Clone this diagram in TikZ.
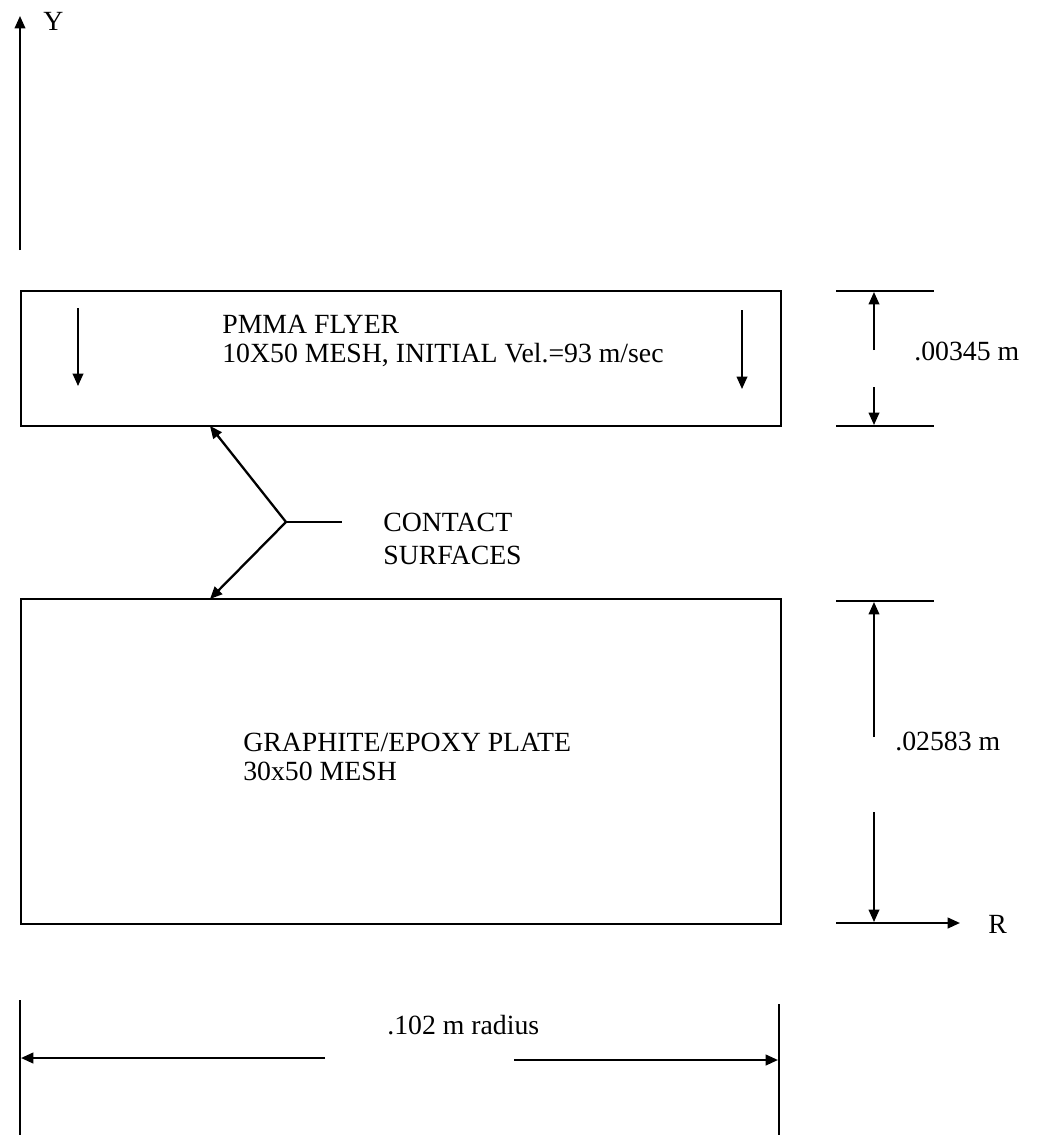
\documentclass[tikz,border=0pt]{standalone}
\usepackage{fontspec}
\setmainfont{Liberation Serif}
\usetikzlibrary{arrows.meta}
\begin{document}
\begin{tikzpicture}[x=0.02cm,y=-0.02cm,
  line/.style={line width=1.3pt},
  thin/.style={line width=1pt},
  arr/.style={-{Triangle[length=7pt,width=6pt]}},
  lbl/.style={font=\fontsize{15.8}{17}\selectfont, inner sep=0pt, anchor=base west, align=left}]
\useasboundingbox (0,0) rectangle (1049,1137);
% Y axis
\coordinate (ybot) at (20,250);
\coordinate (ytop) at (20,16);
\draw[thin,arr] (ybot) -- (ytop);
\node[lbl] (ylab) at (43,30) {Y};
% flyer
\node[draw,line, minimum width=760*0.02cm, minimum height=135*0.02cm, anchor=north west, inner sep=0pt] (flyer) at (20,290) {};
\coordinate (fa1) at (78,308);
\coordinate (fa1e) at (78,386);
\coordinate (fa2) at (742,310);
\coordinate (fa2e) at (742,389);
\draw[thin,arr] (fa1) -- (fa1e);
\draw[thin,arr] (fa2) -- (fa2e);
\node[lbl] (ftxt1) at (222,333) {PMMA FLYER};
\node[lbl] (ftxt2) at (222,362) {10X50 MESH, INITIAL Vel.=93 m/sec};
% plate
\node[draw,line, minimum width=760*0.02cm, minimum height=325*0.02cm, anchor=north west, inner sep=0pt] (plate) at (20,598) {};
\node[lbl] (ptxt1) at (243,751) {GRAPHITE/EPOXY PLATE};
\node[lbl] (ptxt2) at (243,780) {30x50 MESH};
% contact
\coordinate (junc) at (286,522);
\coordinate (jend) at (342,522);
\coordinate (ctop) at (210,426);
\coordinate (cbot) at (210,599);
\draw[line] (junc) -- (jend);
\draw[line,arr] (junc) -- (ctop);
\draw[line,arr] (junc) -- (cbot);
\node[lbl] (ctxt1) at (383,531) {CONTACT};
\node[lbl] (ctxt2) at (383,564) {SURFACES};
% flyer dimension
\coordinate (d1a) at (836,291); \coordinate (d1b) at (934,291);
\coordinate (d2a) at (836,426); \coordinate (d2b) at (934,426);
\draw[line] (d1a) -- (d1b);
\draw[line] (d2a) -- (d2b);
\coordinate (d1s) at (874,350); \coordinate (d1t) at (874,292);
\coordinate (d2s) at (874,387); \coordinate (d2t) at (874,425);
\draw[thin,arr] (d1s) -- (d1t);
\draw[thin,arr] (d2s) -- (d2t);
\node[lbl] (dim1) at (914,360) {.00345 m};
% plate dimension
\coordinate (d3a) at (836,601); \coordinate (d3b) at (934,601);
\draw[line] (d3a) -- (d3b);
\coordinate (d3s) at (874,737); \coordinate (d3t) at (874,602);
\coordinate (d4s) at (874,812); \coordinate (d4t) at (874,922);
\draw[thin,arr] (d3s) -- (d3t);
\draw[thin,arr] (d4s) -- (d4t);
\node[lbl] (dim2) at (895,750) {.02583 m};
% R axis
\coordinate (ra) at (836,923); \coordinate (rb) at (960,923);
\draw[line,arr] (ra) -- (rb);
\node[lbl] (rlab) at (988,933) {R};
% bottom dimension
\coordinate (bl1) at (20,1000); \coordinate (bl2) at (20,1135);
\coordinate (br1) at (779,1004); \coordinate (br2) at (779,1135);
\draw[thin] (bl1) -- (bl2);
\draw[thin] (br1) -- (br2);
\coordinate (la) at (325,1058); \coordinate (lt) at (21,1058);
\coordinate (rra) at (514,1060); \coordinate (rrt) at (778,1060);
\draw[line,arr] (la) -- (lt);
\draw[line,arr] (rra) -- (rrt);
\node[lbl] (rad) at (387,1034) {.102 m radius};
\end{tikzpicture}
\end{document}
